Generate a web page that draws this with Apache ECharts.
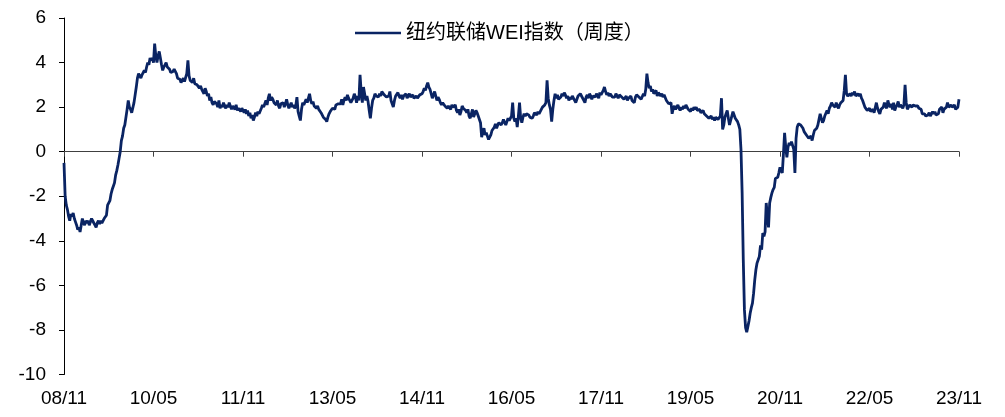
<!DOCTYPE html>
<html>
<head>
<meta charset="utf-8">
<script src="https://cdn.jsdelivr.net/npm/echarts@6/dist/echarts.min.js"></script>
<style>
  html, body { margin: 0; padding: 0; background: #fff; }
  #WeiChart { width: 1005px; height: 417px; }
</style>
</head>
<body>
<div id="WeiChart"></div>
<script>
  // 纽约联储WEI指数（周度），2008/11 - 2023/11，每周一个点
  var seriesName = '纽约联储WEI指数（周度）'
  var tickLabels = ['08/11', '10/05', '11/11', '13/05', '14/11', '16/05', '17/11', '19/05', '20/11', '22/05', '23/11']
  var weeksPerTick = 78
  var startDate = '2008-11-01'
  var yTicks = { min: -10, max: 6, interval: 2 }

  var weiValues = [
    -0.5, -2.0, -2.4, -2.6, -2.9, -3.1, -2.8, -2.9, -2.75, -3.0,
    -3.15, -3.3, -3.5, -3.4, -3.6, -3.3, -3.0, -3.2, -3.3, -3.1,
    -3.2, -3.1, -3.3, -3.25, -3.0, -3.1, -3.2, -3.3, -3.4, -3.2,
    -3.1, -3.25, -3.1, -3.2, -3.15, -3.0, -2.95, -2.85, -2.4, -2.3,
    -2.2, -1.9, -1.7, -1.55, -1.4, -1.05, -0.85, -0.6, -0.3, 0.0,
    0.5, 0.7, 1.05, 1.2, 1.15, 1.9, 2.3, 2.0, 1.9, 1.75,
    1.8, 2.2, 2.55, 2.9, 3.3, 3.5, 3.45, 3.3, 3.45, 3.55,
    3.65, 3.55, 3.8, 4.0, 3.9, 4.2, 4.1, 4.2, 4.0, 4.85,
    4.3, 4.0, 4.3, 4.5, 4.2, 3.9, 3.65, 3.8, 3.9, 4.0,
    3.8, 3.75, 3.7, 3.55, 3.6, 3.6, 3.7, 3.75, 3.5, 3.3,
    3.35, 3.25, 3.1, 3.2, 3.3, 3.15, 3.2, 3.5, 4.1, 3.4,
    3.2, 3.25, 3.1, 3.3, 3.05, 3.1, 3.0, 2.95, 2.85, 2.95,
    2.8, 2.75, 2.6, 2.85, 2.7, 2.5, 2.6, 2.3, 2.45, 2.2,
    2.1, 2.25, 2.3, 2.15, 2.0, 2.3, 1.95, 2.1, 2.0, 2.2,
    2.05, 1.95, 2.1, 2.0, 2.2, 2.15, 1.9, 2.05, 2.0, 1.9,
    2.1, 1.85, 1.95, 2.0, 1.8, 1.95, 1.85, 1.75, 1.9, 1.7,
    1.85, 1.6, 1.75, 1.5, 1.65, 1.4, 1.55, 1.75, 1.6, 1.8,
    1.7, 1.7, 1.95, 2.1, 2.0, 2.15, 2.3, 2.1, 2.4, 2.6,
    2.3, 2.45, 2.35, 2.2, 2.2, 2.1, 2.3, 2.05, 1.95, 2.15,
    2.2, 2.2, 2.0, 2.15, 2.35, 2.1, 1.95, 1.9, 2.2, 2.0,
    2.1, 1.95, 2.05, 2.45, 1.8, 1.6, 1.4, 1.9, 2.2, 2.1,
    2.15, 2.35, 2.2, 2.4, 2.6, 2.3, 2.15, 2.25, 2.05, 2.1,
    1.95, 2.05, 1.9, 1.9, 1.75, 1.65, 1.55, 1.6, 1.45, 1.35,
    1.55, 1.7, 1.8, 1.75, 1.95, 2.0, 1.9, 2.1, 2.05, 2.15,
    2.2, 2.15, 2.35, 2.1, 2.3, 2.45, 2.3, 2.55, 2.4, 2.3,
    2.2, 2.15, 2.4, 2.6, 2.45, 2.2, 2.5, 2.3, 3.45, 2.7,
    2.2, 2.9, 2.6, 2.3, 2.5, 2.25, 1.85, 1.5, 1.95, 2.3,
    2.4, 2.6, 2.5, 2.55, 2.45, 2.6, 2.5, 2.7, 2.65, 2.55,
    2.5, 2.45, 2.4, 2.5, 2.7, 2.3, 2.15, 2.0, 2.3, 2.5,
    2.45, 2.65, 2.5, 2.4, 2.55, 2.35, 2.5, 2.45, 2.6, 2.4,
    2.5, 2.6, 2.45, 2.5, 2.55, 2.4, 2.45, 2.5, 2.4, 2.45,
    2.55, 2.5, 2.6, 2.7, 2.85, 2.75, 2.95, 3.1, 2.9, 2.8,
    2.6, 2.4, 2.55, 2.7, 2.5, 2.3, 2.45, 2.35, 2.2, 2.1,
    2.2, 2.15, 2.05, 2.1, 1.95, 2.05, 2.0, 1.9, 2.1, 2.0,
    1.95, 2.1, 1.85, 1.75, 1.9, 1.65, 1.8, 2.05, 1.95, 2.0,
    1.85, 1.75, 1.9, 1.6, 1.5, 1.7, 1.9, 1.55, 1.7, 1.85,
    1.75, 1.6, 1.65, 1.3, 0.65, 0.9, 1.05, 0.75, 0.85, 0.7,
    0.55, 0.5, 0.75, 0.95, 1.0, 1.1, 1.25, 1.05, 1.2, 1.3,
    1.35, 1.2, 1.3, 1.45, 1.3, 1.2, 1.35, 1.5, 1.4, 1.45,
    1.6, 2.2, 1.5, 1.35, 1.5, 1.1, 1.6, 2.2, 1.5, 1.3,
    1.55, 1.7, 1.6, 1.7, 1.75, 1.65, 1.55, 1.6, 1.5, 1.6,
    1.75, 1.7, 1.65, 1.8, 1.7, 1.65, 1.9, 2.0, 1.95, 2.1,
    2.2, 3.2, 2.4, 2.1, 1.9, 1.35, 1.9, 2.3, 2.6, 2.4,
    2.55, 2.35, 2.3, 2.45, 2.6, 2.5, 2.65, 2.55, 2.4, 2.5,
    2.3, 2.45, 2.35, 2.5, 2.4, 2.4, 2.2, 2.35, 2.5, 2.45,
    2.6, 2.5, 2.45, 2.3, 2.2, 2.45, 2.55, 2.4, 2.6, 2.5,
    2.35, 2.5, 2.55, 2.45, 2.6, 2.5, 2.4, 2.65, 2.55, 2.6,
    2.75, 2.9, 2.7, 2.55, 2.65, 2.5, 2.6, 2.55, 2.45, 2.5,
    2.45, 2.6, 2.5, 2.4, 2.55, 2.6, 2.45, 2.5, 2.35, 2.4,
    2.5, 2.3, 2.4, 2.45, 2.5, 2.3, 2.35, 2.2, 2.45, 2.55,
    2.6, 2.45, 2.5, 2.35, 2.4, 2.6, 2.5, 2.8, 3.5, 3.1,
    2.85, 2.95, 2.7, 2.8, 2.6, 2.65, 2.75, 2.5, 2.65, 2.6,
    2.5, 2.6, 2.45, 2.55, 2.55, 2.3, 2.35, 2.15, 2.1, 2.2,
    1.7, 1.95, 2.05, 1.9, 2.0, 2.1, 1.95, 1.85, 2.0, 1.9,
    2.05, 1.95, 2.1, 2.1, 1.9, 1.85, 1.8, 1.95, 1.85, 2.0,
    1.9, 2.0, 1.85, 1.8, 1.9, 1.75, 1.7, 1.85, 1.7, 1.7,
    1.6, 1.55, 1.5, 1.5, 1.6, 1.45, 1.55, 1.4, 1.55, 1.6,
    1.45, 1.5, 1.6, 2.4, 1.0, 1.2, 1.55, 1.7, 1.85, 1.5,
    1.2, 1.4, 1.6, 1.8, 1.65, 1.5, 1.45, 1.35, 1.2, 1.0,
    0.1, -1.85, -4.85, -7.1, -7.9, -8.1, -7.85, -7.6, -7.25, -7.0,
    -6.8, -6.35, -5.75, -5.3, -5.0, -4.85, -4.7, -4.2, -4.4, -3.65,
    -3.8, -3.6, -2.3, -2.9, -3.4, -2.3, -2.05, -1.85, -1.7, -1.6,
    -1.2, -1.25, -1.15, -0.95, -0.7, -0.85, -0.95, -0.1, 0.85, 0.2,
    -0.25, 0.2, 0.4, 0.3, 0.45, 0.4, 0.1, -0.95, 0.6, 1.1,
    1.25, 1.3, 1.2, 1.15, 1.05, 0.9, 0.85, 0.75, 0.7, 0.6,
    0.55, 0.7, 0.5, 0.75, 0.95, 1.0, 1.05, 1.2, 1.45, 1.7,
    1.5, 1.3, 1.4, 1.6, 1.55, 1.85, 1.7, 1.95, 2.05, 2.2,
    2.1, 2.05, 2.0, 2.2, 2.05, 1.95, 2.1, 2.2, 2.15, 2.3,
    2.75, 3.45, 2.6, 2.5, 2.45, 2.6, 2.5, 2.65, 2.55, 2.7,
    2.5, 2.45, 2.6, 2.5, 2.6, 2.4, 2.3, 2.15, 2.0, 1.95,
    1.85, 1.9, 1.95, 1.8, 1.85, 1.9, 1.75, 1.8, 2.2, 1.95,
    1.8, 1.7, 1.9, 1.85, 2.0, 2.2, 2.05, 1.95, 2.3, 2.1,
    2.0, 2.15, 1.9, 2.2, 1.85, 2.0, 2.1, 2.25, 2.0, 2.1,
    2.05, 1.95, 2.1, 3.0, 2.2, 1.9, 2.0, 2.1, 2.05, 2.0,
    2.1, 2.1, 2.05, 2.0, 2.05, 1.95, 2.0, 1.9, 1.7, 1.65,
    1.7, 1.6, 1.65, 1.65, 1.75, 1.6, 1.55, 1.8, 1.7, 1.8,
    1.65, 1.65, 1.7, 1.9, 1.85, 2.0, 1.75, 1.9, 1.85, 2.0,
    2.2, 2.0, 1.95, 2.1, 2.0, 2.05, 2.1, 1.9, 1.95, 2.0,
    2.35
  ]

  // 周度日期作为类目
  var weekDates = []
  var t0 = new Date(startDate + 'T00:00:00Z').getTime()
  for (var i = 0; i < weiValues.length; i++) {
    var d = new Date(t0 + i * 7 * 86400000)
    weekDates.push(d.toISOString().slice(0, 10))
  }

  var fontEn = '"Liberation Sans", Arial, sans-serif'
  var fontCn = '"Liberation Sans", "Noto Sans CJK SC", sans-serif'
  var lineColor = '#0a2463'

  var chart = echarts.init(document.getElementById('WeiChart'), null, { renderer: 'canvas' })
  chart.setOption({
    animation: false,
    backgroundColor: '#fff',
    grid: {
      left: 64,
      right: 46,
      top: 18,
      bottom: 42.5
    },
    legend: {
      data: [seriesName],
      left: 350,
      top: 18,
      icon: 'rect',
      itemWidth: 46,
      itemHeight: 2.5,
      itemGap: 10,
      textStyle: {
        fontFamily: fontCn,
        fontSize: 20,
        color: '#000'
      }
    },
    xAxis: [
      {
        // 底部标签
        type: 'category',
        data: weekDates,
        boundaryGap: false,
        position: 'bottom',
        axisLine: { show: false, onZero: false },
        axisTick: { show: false },
        splitLine: { show: false },
        axisLabel: {
          interval: weeksPerTick - 1,
          margin: 15,
          fontFamily: fontEn,
          fontSize: 19,
          color: '#000',
          formatter: function (value, index) {
            return tickLabels[Math.round(index / weeksPerTick)] || ''
          }
        }
      },
      {
        // 零轴线和刻度
        type: 'category',
        data: weekDates,
        boundaryGap: false,
        position: 'bottom',
        axisLine: { show: true, onZero: true, lineStyle: { color: '#404040', width: 1 } },
        axisTick: {
          show: true,
          interval: weeksPerTick - 1,
          length: 5,
          lineStyle: { color: '#404040', width: 1 }
        },
        axisLabel: { show: false },
        splitLine: { show: false }
      }
    ],
    yAxis: {
      type: 'value',
      min: yTicks.min,
      max: yTicks.max,
      interval: yTicks.interval,
      axisLine: { show: true, lineStyle: { color: '#000', width: 1 } },
      axisTick: { show: true, length: 5, lineStyle: { color: '#000' } },
      splitLine: { show: false },
      axisLabel: {
        margin: 18,
        fontFamily: fontEn,
        fontSize: 19,
        color: '#000'
      }
    },
    series: [
      {
        name: seriesName,
        type: 'line',
        xAxisIndex: 0,
        data: weiValues,
        showSymbol: false,
        symbol: 'none',
        lineStyle: { color: lineColor, width: 2.8 },
        itemStyle: { color: lineColor }
      }
    ]
  })
</script>
</body>
</html>
